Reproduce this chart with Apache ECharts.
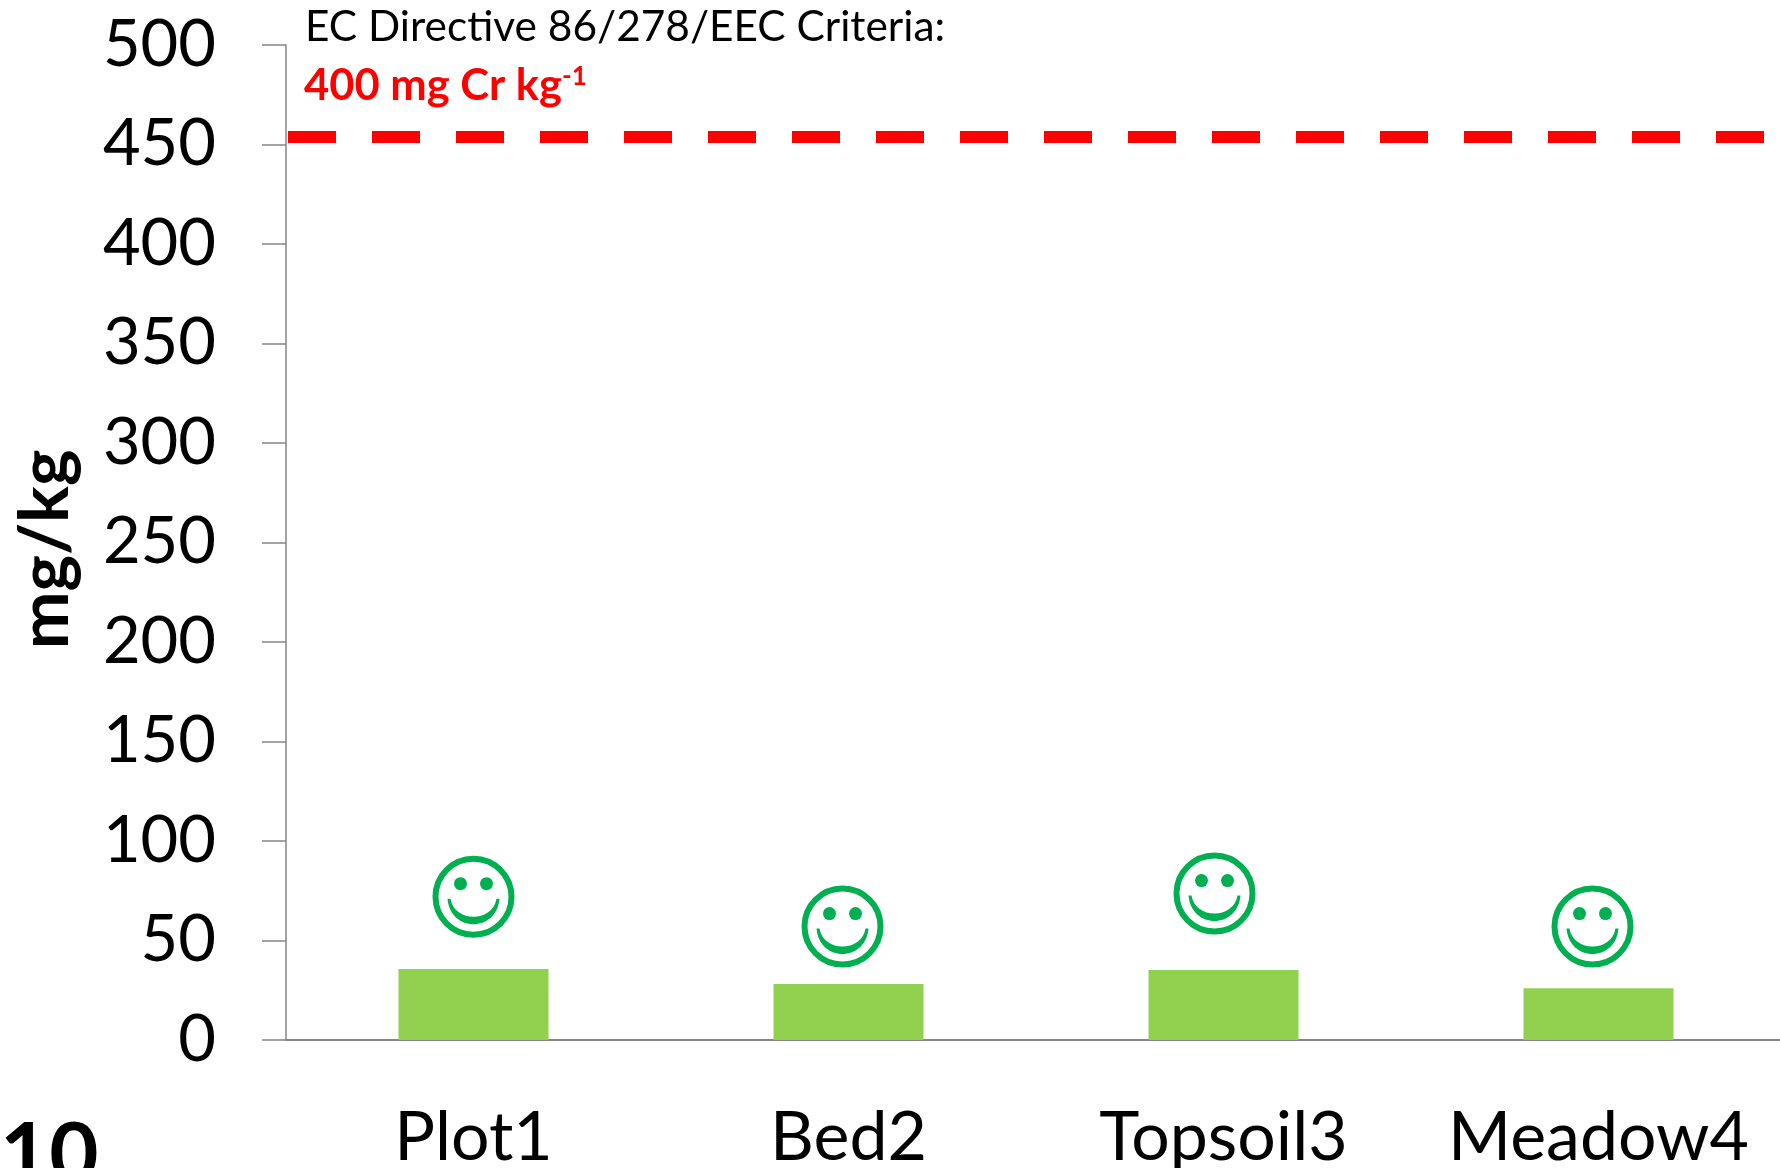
<!DOCTYPE html>
<html><head><meta charset="utf-8">
<style>html,body{margin:0;padding:0;background:#fff}#c{width:1780px;height:1168px}</style>
<script src="https://cdn.jsdelivr.net/npm/echarts@6/dist/echarts.min.js"></script>
</head><body><div id="c"></div>
<script>
const categories = ['Plot1', 'Bed2', 'Topsoil3', 'Meadow4'];
const barValues = [35.7, 28.1, 35.2, 26];
const smileyValues = [72, 57, 73.6, 57];
const smileyShift = [0, -6, -9, -6];
const criteriaLine = 454;
const yTicks = [0, 50, 100, 150, 200, 250, 300, 350, 400, 450, 500];
const font = 'Lato';
const green = '#00B050';

const chart = echarts.init(document.getElementById('c'), null, {renderer: 'canvas'});
chart.setOption({
  animation: false,
  backgroundColor: '#fff',
  grid: {left: 286, top: 45, width: 1500, height: 995, containLabel: false, outerBoundsMode: 'none'},
  xAxis: {
    type: 'category', data: categories,
    axisLine: {lineStyle: {color: '#868686', width: 2}},
    axisTick: {show: false},
    axisLabel: {color: '#000', fontFamily: font, fontSize: 68, margin: 64, interval: 0}
  },
  yAxis: {
    type: 'value', min: 0, max: 500, interval: 50,
    name: 'mg/kg', nameLocation: 'middle', nameGap: 206, nameRotate: 90,
    nameTextStyle: {color: '#000', fontFamily: font, fontWeight: 'bold', fontSize: 69, padding: [0, 14, 0, 0]},
    splitLine: {show: false},
    axisLine: {show: true, lineStyle: {color: '#868686', width: 1.5}},
    axisTick: {show: true, length: 24, lineStyle: {color: '#868686', width: 1.5}},
    axisLabel: {color: '#000', fontFamily: font, fontSize: 65, margin: 70,
      formatter: v => String(yTicks[yTicks.indexOf(v)])}
  },
  series: [
    {
      type: 'bar', data: barValues, barWidth: '40%',
      itemStyle: {color: '#92D050'},
      markLine: {
        silent: true, symbol: 'none', label: {show: false},
        lineStyle: {color: '#FF0000', width: 12, type: [48, 36], dashOffset: -2, cap: 'butt'},
        data: [{yAxis: criteriaLine}]
      }
    },
    {
      type: 'custom',
      data: smileyValues.map((v, i) => [i, v]),
      encode: {x: 0, y: 1},
      z: 5,
      renderItem: (params, api) => {
        const p = api.coord([api.value(0), api.value(1)]);
        const cx = p[0] + smileyShift[params.dataIndex], cy = p[1];
        return {
          type: 'group',
          children: [
            {type: 'circle', shape: {cx, cy, r: 38}, style: {fill: 'none', stroke: green, lineWidth: 6}},
            {type: 'circle', shape: {cx: cx - 13, cy: cy - 13, r: 6.5}, style: {fill: green}},
            {type: 'circle', shape: {cx: cx + 13, cy: cy - 13, r: 6.5}, style: {fill: green}},
            {type: 'path', shape: {pathData:
                `M ${cx - 26} ${cy + 2} C ${cx - 23} ${cy + 36}, ${cx + 23} ${cy + 36}, ${cx + 26} ${cy + 2}
                 L ${cx + 23} ${cy + 2} C ${cx + 19} ${cy + 26}, ${cx - 19} ${cy + 26}, ${cx - 23} ${cy + 2} Z`},
              style: {fill: green}}
          ]
        };
      }
    }
  ],
  graphic: [
    {type: 'text', left: 305, top: 6, style: {
      text: 'EC Directive 86/278/EEC Criteria:', fill: '#000', font: `42.4px ${font}`}},
    {type: 'text', left: 304, top: 64, style: {
      text: '{a|400 mg Cr kg}{b|-1}', fill: '#f00',
      rich: {
        a: {fill: '#FF0000', font: `bold 43.5px ${font}`},
        b: {fill: '#FF0000', font: `bold 26px ${font}`, verticalAlign: 'top'}
      }}},
    {type: 'text', left: 0, top: 1113, style: {text: '10', fill: '#000', font: `bold 85px ${font}`}}
  ]
});
</script></body></html>
